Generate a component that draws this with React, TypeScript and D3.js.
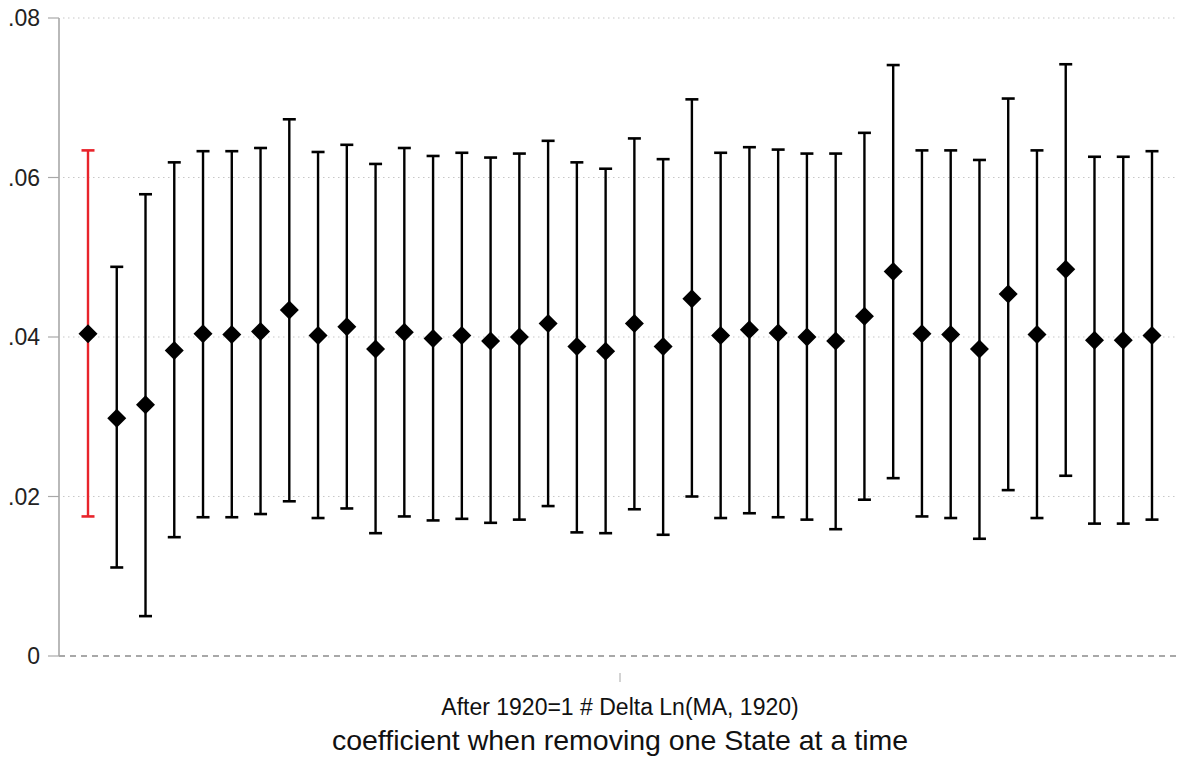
import React from "react";
import * as d3 from "d3";

const W = 1177;
const H = 759;

// coefficient estimates (one per omitted state), first one = full sample
const coef = [
  0.0404, 0.0298, 0.0315, 0.0383, 0.0404, 0.0403, 0.0407, 0.0434, 0.0402, 0.0413,
  0.0385, 0.0406, 0.0398, 0.0402, 0.0395, 0.0400, 0.0417, 0.0388, 0.0382, 0.0417,
  0.0388, 0.0448, 0.0402, 0.0409, 0.0405, 0.0400, 0.0395, 0.0426, 0.0482, 0.0404,
  0.0403, 0.0385, 0.0454, 0.0403, 0.0485, 0.0396, 0.0396, 0.0402,
];
const upper = [
  0.0634, 0.0488, 0.0579, 0.0619, 0.0633, 0.0633, 0.0637, 0.0673, 0.0632, 0.0641,
  0.0617, 0.0637, 0.0627, 0.0631, 0.0625, 0.0630, 0.0646, 0.0619, 0.0611, 0.0649,
  0.0623, 0.0698, 0.0631, 0.0638, 0.0635, 0.0630, 0.0630, 0.0656, 0.0741, 0.0634,
  0.0634, 0.0622, 0.0699, 0.0634, 0.0742, 0.0626, 0.0626, 0.0633,
];
const lower = [
  0.0175, 0.0111, 0.0050, 0.0149, 0.0174, 0.0174, 0.0178, 0.0194, 0.0173, 0.0185,
  0.0154, 0.0175, 0.0170, 0.0172, 0.0167, 0.0171, 0.0188, 0.0155, 0.0154, 0.0184,
  0.0152, 0.0200, 0.0173, 0.0179, 0.0174, 0.0171, 0.0159, 0.0196, 0.0223, 0.0175,
  0.0173, 0.0147, 0.0208, 0.0173, 0.0226, 0.0166, 0.0166, 0.0171,
];
const yTicks = [0, 0.02, 0.04, 0.06, 0.08];
const yTickLabels = ["0", ".02", ".04", ".06", ".08"];
const xLabel = "After 1920=1 # Delta Ln(MA, 1920)";
const title = "coefficient when removing one State at a time";

export default function App() {
  const idx = coef.map((_, i) => i);
  const x = d3.scalePoint<number>().domain(idx).range([88, 1152]);
  const y = d3.scaleLinear().domain([0, 0.08]).range([656, 18]);
  const axisX = 59;
  const plotRight = W;
  const xMid = 620;
  const capHalf = 6.5;
  const dHalf = 9.5;
  const font = "'Liberation Sans', Arial, sans-serif";

  return (
    <svg
      width={W}
      height={H}
      style={{ position: "absolute", left: 0, top: 0, background: "#fff" }}
      fontFamily={font}
    >
      {/* gridlines */}
      {yTicks.map((t, i) =>
        t === 0 ? (
          <line
            key={i}
            x1={axisX}
            x2={plotRight}
            y1={y(t)}
            y2={y(t)}
            stroke="#8c8c8c"
            strokeWidth={1.6}
            strokeDasharray="6,5"
          />
        ) : (
          <line
            key={i}
            x1={axisX + 4}
            x2={plotRight}
            y1={y(t)}
            y2={y(t)}
            stroke="#c8c8c8"
            strokeWidth={1.2}
            strokeDasharray="1.5,3.5"
          />
        )
      )}
      {/* y axis */}
      <line x1={axisX} x2={axisX} y1={y(0.08)} y2={y(0)} stroke="#a8a8a8" strokeWidth={1.6} />
      {yTicks.map((t, i) => (
        <g key={i}>
          <line x1={axisX - 11} x2={axisX} y1={y(t)} y2={y(t)} stroke="#a8a8a8" strokeWidth={1.2} />
          <text
            x={40}
            y={y(t)}
            dy="0.36em"
            textAnchor="end"
            fontSize={23}
            fill="#222"
          >
            {yTickLabels[i]}
          </text>
        </g>
      ))}
      {/* x axis tick */}
      <line x1={xMid} x2={xMid} y1={673} y2={682} stroke="#a8a8a8" strokeWidth={1} />
      <text x={xMid} y={715} textAnchor="middle" fontSize={23} fill="#111">
        {xLabel}
      </text>
      <text x={xMid} y={750} textAnchor="middle" fontSize={28.5} fill="#111">
        {title}
      </text>
      {/* error bars */}
      {idx.map((i) => {
        const cx = x(i) as number;
        const col = i === 0 ? "#e8242b" : "#000";
        return (
          <g key={i}>
            <line x1={cx} x2={cx} y1={y(upper[i])} y2={y(lower[i])} stroke={col} strokeWidth={2.4} />
            <line x1={cx - capHalf} x2={cx + capHalf} y1={y(upper[i])} y2={y(upper[i])} stroke={col} strokeWidth={2.6} />
            <line x1={cx - capHalf} x2={cx + capHalf} y1={y(lower[i])} y2={y(lower[i])} stroke={col} strokeWidth={2.6} />
          </g>
        );
      })}
      {/* diamonds */}
      {idx.map((i) => {
        const cx = x(i) as number;
        const cy = y(coef[i]);
        const p = `M${cx},${cy - dHalf}L${cx + dHalf},${cy}L${cx},${cy + dHalf}L${cx - dHalf},${cy}Z`;
        return <path key={i} d={p} fill="#000" />;
      })}
    </svg>
  );
}
